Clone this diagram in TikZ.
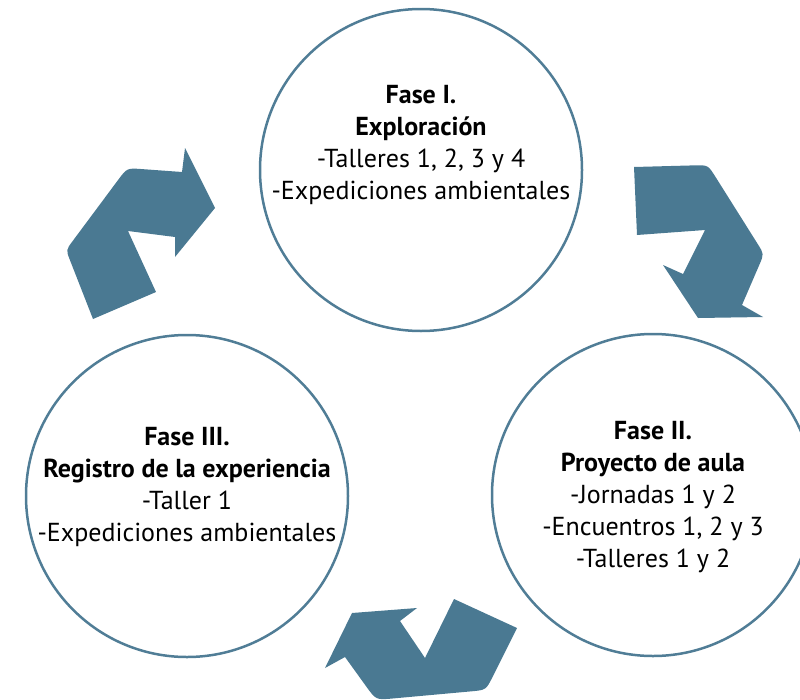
\documentclass[tikz,border=0pt]{standalone}
\usepackage{fontspec}
\setmainfont{PT Sans}
\usetikzlibrary{calc,positioning}
\definecolor{flechaazul}{RGB}{74,121,146}
\definecolor{bordeazul}{RGB}{80,125,150}

\begin{document}
\begin{tikzpicture}[x=1pt,y=-1pt]
        \tikzstyle{fase} = [circle, draw=bordeazul, line width=2.5pt, minimum size=322pt, inner sep=0pt]
        \tikzstyle{texto} = [align=center, inner sep=0pt, font=\fontsize{26}{32}\selectfont]
        \tikzstyle{flecha} = [fill=flechaazul]

        \useasboundingbox (0,0) rectangle (800,699);

        \node[fase] (fase1) at (421,170) {};
        \node[fase] (fase2) at (653,495) {};
        \node[fase] (fase3) at (187,496) {};

        \node[texto] (txt1) at ([yshift=25pt]fase1.center) {\textbf{Fase I.}\\ \textbf{Exploración}\\ -Talleres 1, 2, 3 y 4\\ -Expediciones ambientales};
        \node[texto] (txt2) at ([yshift=-2pt]fase2.center) {\textbf{Fase II.}\\ \textbf{Proyecto de aula}\\ -Jornadas 1 y 2\\ -Encuentros 1, 2 y 3\\ -Talleres 1 y 2};
        \node[texto] (txt3) at ([yshift=9pt]fase3.center) {\textbf{Fase III.}\\ \textbf{Registro de la experiencia}\\ -Taller 1\\ -Expediciones ambientales};

        % flechas entre las fases
        \fill[flecha] (93,319) -- (156,292) -- (128,231) -- (175,237) -- (175,257) -- (215,208) -- (185,148) -- (182,172)
          -- ($(127,168)!15pt!(182,172)$) .. controls (127,168) .. ($(127,168)!15pt!(66,250)$)
          -- ($(66,250)!11pt!(127,168)$) .. controls (66,250) .. ($(66,250)!11pt!(93,319)$) -- cycle;
        \fill[flecha] (634,167) -- ($(708,165)!14pt!(634,167)$) .. controls (708,165) .. ($(708,165)!14pt!(764,254)$)
          -- ($(764,254)!12pt!(708,165)$) .. controls (764,254) .. ($(764,254)!12pt!(742,305)$)
          -- (742,305) -- (763,317) -- (698,318) -- (663,265) -- (683,274) -- (705,230) -- (637,235) -- cycle;
        \fill[flecha] (454,599) -- (517,628) -- ($(486,690)!15pt!(517,628)$) .. controls (486,690) .. ($(486,690)!15pt!(376,700)$)
          -- ($(376,700)!17pt!(486,690)$) .. controls (376,700) .. ($(376,700)!17pt!(345,657)$)
          -- (345,657) -- (325,668) -- (352,613) -- (417,608) -- (400,621) -- (425,658) -- cycle;
\end{tikzpicture}
\end{document}
